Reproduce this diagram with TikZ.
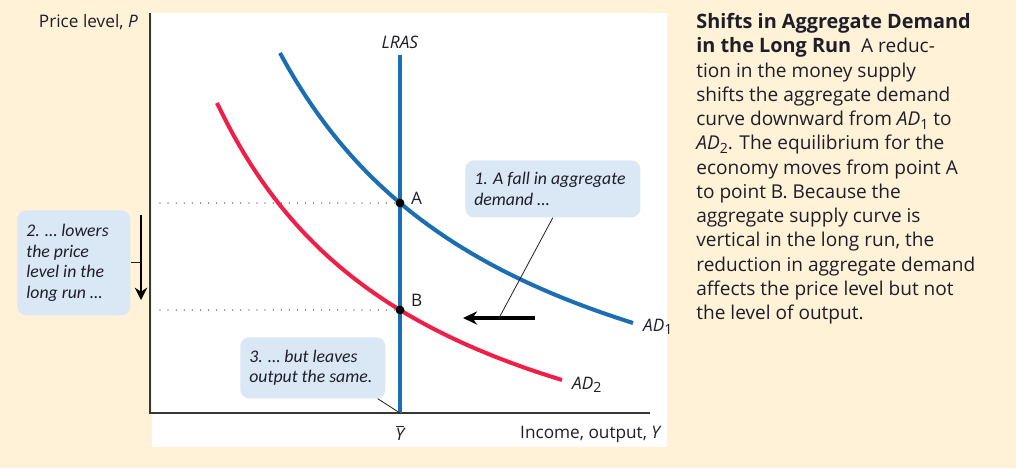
\documentclass[tikz,border=0pt]{standalone}
\usepackage{amsmath}
\usepackage{xcolor,tikz,fontspec}
\usetikzlibrary{arrows.meta,positioning,calc}
\setmainfont{Open Sans}
\newfontfamily\callfont{Carlito}
\definecolor{cream}{RGB}{255,242,215}
\definecolor{inkk}{RGB}{30,30,42}
\definecolor{adblue}{RGB}{28,110,178}
\definecolor{adred}{RGB}{238,32,72}
\definecolor{bubble}{RGB}{218,231,245}
\definecolor{axisgray}{RGB}{55,55,55}
\tikzset{
  axisline/.style={draw=axisgray,line width=0.9pt},
  curve/.style={line width=2.3pt},
  guide/.style={draw=inkk,line width=0.7pt,line cap=round,dash pattern=on 0pt off 4.6pt},
  eqdot/.style={circle,fill=black,inner sep=0pt,minimum size=5pt},
  callout/.style={fill=bubble,rounded corners=5pt,inner xsep=0.18cm,inner ysep=0pt,
    align=flush left,font=\callfont\itshape\fontsize{10.1}{11.6}\selectfont,text=inkk},
  shiftarr/.style={-{Stealth[length=8pt,width=7.5pt]},line width=2pt,draw=black},
  lead/.style={draw=inkk,line width=0.45pt},
  lab/.style={font=\fontsize{9.8}{12}\selectfont,text=inkk}
}
\newcommand{\adsub}[1]{\textit{AD}\raisebox{-0.35ex}{\footnotesize #1}}
\begin{document}
\begin{tikzpicture}[x=0.02cm,y=-0.02cm]
  % background and plot area
  \fill[cream] (0,0) rectangle (1016,468);
  \fill[white] (152,13) rectangle (667,447);
  \useasboundingbox (0,0) rectangle (1016,468);

  % axes
  \coordinate (O) at (150,413);
  \draw[axisline] (150,13) -- (O) -- (650,413);
  \node[lab,anchor=east] (ylab) at (144,22) {Price level, \textit{P}};
  \node[lab,anchor=east] (xlab) at (668,434) {Income, output, \textit{Y}};

  % long-run aggregate supply
  \coordinate (ybar) at (400,413);
  \draw[adblue,line width=2.3pt] (400,55) -- (ybar);
  \node[lab] (lras) at (400,42) {\textit{LRAS}};
  \node[lab] (ybarlab) at (400,433) {$\overline{\textit{Y}}$};

  % aggregate demand curves
  \draw[adblue,curve] plot[domain=280:633,samples=80] (\x,{512.2-(1136.19/(\x-32.6))*100});
  \draw[adred,curve] plot[domain=217:562,samples=80] (\x,{551.2-(955.83/(\x-3.75))*100});
  \node[lab,anchor=west] (ad1) at (637,327) {\adsub{1}};
  \node[lab,anchor=west] (ad2) at (566,385) {\adsub{2}};

  % equilibria
  \node[eqdot] (A) at (400,203) {};
  \node[eqdot] (B) at (400,310) {};
  \node[lab,anchor=west] (Alab) at (405,198) {A};
  \node[lab,anchor=west] (Blab) at (405,300) {B};
  \draw[guide] (160,203) -- (A);
  \draw[guide] (160,310) -- (B);

  % shift of demand
  \coordinate (shR) at (535,318);
  \coordinate (shL) at (463,318);
  \draw[shiftarr] (shR) -- (shL);
  \node[callout,anchor=north west,minimum width=3.5cm,minimum height=1.14cm,text width=3.14cm]
    (fall) at (465,160) {1. A fall in aggregate\\demand \dots};
  \draw[lead] (fall.south) -- ($(shL)!0.5!(shR)$);

  % fall in the price level
  \coordinate (pdTop) at (141,215);
  \coordinate (pdBot) at (141,300);
  \draw[shiftarr,-{Stealth[length=7pt,width=7pt]},line width=1.7pt] (pdTop) -- (pdBot);
  \node[callout,anchor=north west,minimum width=2.26cm,minimum height=2.1cm,text width=1.9cm]
    (lowers) at (17,210) {2. \dots\ lowers\\the price\\level in the\\long run \dots};
  \draw[lead] (lowers.east) -- (lowers.east -| pdTop);

  % output unchanged
  \node[callout,anchor=north west,minimum width=2.9cm,minimum height=1.22cm,text width=2.54cm]
    (same) at (240,337) {3. \dots\ but leaves\\output the same.};
  \draw[lead] ($(same.south east)+(-8,0)$) -- (ybar);

  % caption
  \node[anchor=north west,align=left,inner sep=0pt,text=inkk,
    font=\fontsize{10.85}{13.8}\selectfont] (caption) at (696,13)
    {\textbf{\fontsize{11.3}{13.8}\selectfont Shifts in Aggregate Demand}\\
     \textbf{\fontsize{11.3}{13.8}\selectfont in the Long Run}\ \ A reduc-\\
     tion in the money supply\\
     shifts the aggregate demand\\
     curve downward from \adsub{1} to\\
     \adsub{2}. The equilibrium for the\\
     economy moves from point A\\
     to point B. Because the\\
     aggregate supply curve is\\
     vertical in the long run, the\\
     reduction in aggregate demand\\
     affects the price level but not\\
     the level of output.};
\end{tikzpicture}
\end{document}
